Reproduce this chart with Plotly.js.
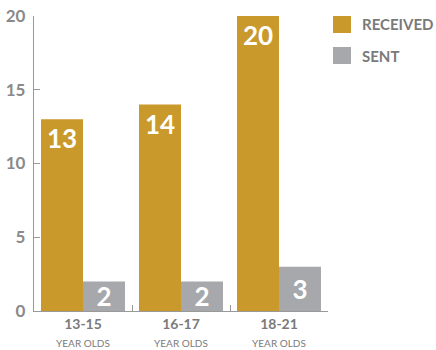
<!DOCTYPE html>
<html><head><meta charset="utf-8">
<script src="https://cdn.plot.ly/plotly-3.0.1.min.js"></script>
<style>body{margin:0;padding:0;background:#fff}#c{width:436px;height:350px}</style>
</head><body><div id="c"></div>
<script>
var categories = ['13-15', '16-17', '18-21'];
var subLabel = 'YEAR OLDS';
var received = [13, 14, 20];
var sent = [2, 2, 3];
var seriesNames = ['RECEIVED', 'SENT'];
var seriesColors = ['#C9992B', '#A7A8AC'];
var yTicks = [0, 5, 10, 15, 20];

var font = 'Lato, "Open Sans", sans-serif';
var tickText = categories.map(function(c){
  return '<b>' + c + '</b><br><span style="font-size:10px">' + subLabel + '</span>';
});

function tr(vals, i, anchor){
  return {
    type: 'bar', x: categories, y: vals, name: seriesNames[i],
    marker: {color: seriesColors[i]},
    text: vals.map(String), textposition: 'inside', insidetextanchor: anchor,
    constraintext: 'none',
    textfont: {family: font, size: 26, color: '#fff', weight: 'bold'},
    textangle: 0, cliponaxis: false, hoverinfo: 'none'
  };
}

var shapes = [], annotations = [];
seriesNames.forEach(function(n, i){
  var top = 16 + i * 31;
  shapes.push({type:'rect', xref:'paper', yref:'paper',
    x0: (333-34)/294, x1: (351-34)/294,
    y0: 1 - (top+17-16)/295, y1: 1 - (top-16)/295,
    fillcolor: seriesColors[i], line:{width:0}});
  annotations.push({xref:'paper', yref:'paper', x:(360-34)/294, y: 1 - (top+8.5-16)/295,
    xanchor:'left', yanchor:'middle', showarrow:false, text: n,
    font:{family: font, size: 15, color:'#7a7a7a', weight:'bold'}});
});

var layout = {
  width: 436, height: 350,
  margin: {l: 34, r: 108, t: 16, b: 39, pad: 0},
  paper_bgcolor: '#fff', plot_bgcolor: '#fff',
  showlegend: false, barmode: 'group', bargap: 0.143, bargroupgap: 0,
  font: {family: font},
  xaxis: {
    type: 'category', range: [-0.5, 2.5], tickmode: 'array',
    tickvals: categories, ticktext: tickText, tickson: 'boundaries',
    ticks: 'inside', ticklen: 6, tickcolor: '#999', tickwidth: 1,
    showline: true, linecolor: '#999', linewidth: 1.2, showgrid: false, zeroline: false,
    tickfont: {family: font, size: 14, color: '#7a7a7a'}
  },
  yaxis: {
    range: [0, 20], tickvals: yTicks, ticks: 'inside', ticklen: 6, tickcolor: '#999',
    showline: true, linecolor: '#999', linewidth: 1.2, showgrid: false, zeroline: false,
    tickfont: {family: font, size: 17, color: '#8a8a8a', weight: 'bold'}, ticklabelstandoff: 4
  },
  shapes: shapes, annotations: annotations
};

Plotly.newPlot('c', [tr(received, 0, 'end'), tr(sent, 1, 'middle')], layout, {displayModeBar: false, staticPlot: true});
</script></body></html>
